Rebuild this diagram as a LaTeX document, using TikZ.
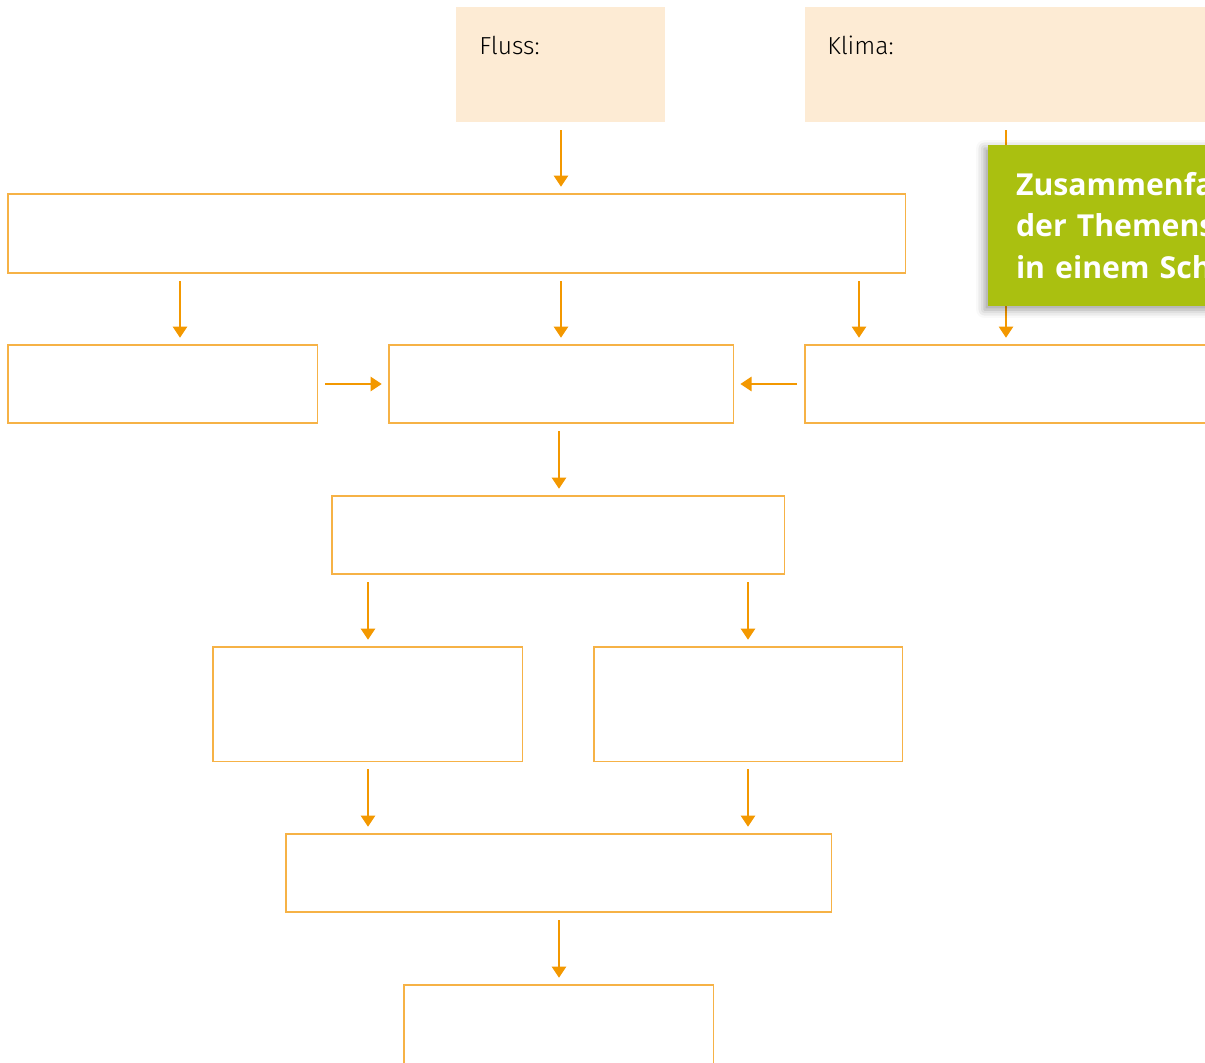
\documentclass[tikz,border=0pt]{standalone}
\usepackage{fontspec}
\setmainfont{Fira Sans}
\newfontfamily\lightfont{Fira Sans Light}
\newfontfamily\medfont{Open Sans}
\usetikzlibrary{arrows.meta,shadows.blur}
\definecolor{boxor}{RGB}{246,178,70}
\definecolor{arror}{RGB}{243,152,0}
\definecolor{beige}{RGB}{253,235,212}
\definecolor{lime}{RGB}{170,192,16}
\begin{document}
\begin{tikzpicture}[x=0.025cm,y=-0.025cm,
  bx/.style={draw=boxor,line width=0.75pt,anchor=north west,inner sep=0pt,outer sep=0pt},
  tb/.style={fill=beige,anchor=north west,inner sep=0pt,outer sep=0pt,minimum height=2.875cm},
  lbl/.style={anchor=base west,inner sep=0pt,font=\lightfont\fontsize{17.5}{20}\selectfont},
  arr/.style={draw=arror,line width=1.8pt,-{Triangle[width=10pt,length=8pt]},shorten <=0.2cm,shorten >=0.18cm},
  greenbox/.style={fill=lime,anchor=north west,inner xsep=0.7cm,inner ysep=0pt,outer sep=0pt,
    text=white,align=left,text width=6.4cm,font=\medfont\bfseries\fontsize{21.5}{29.5}\selectfont,
    blur shadow={shadow xshift=-2.5pt,shadow yshift=-2.5pt,shadow blur radius=6pt,shadow opacity=40}}]
\useasboundingbox (0,0) rectangle (1205,1063);
% top label boxes
\node[tb,minimum width=5.225cm] (fluss) at (456,7) {};
\node[lbl] (flusst) at (479,55) {Fluss:};
\node[tb,minimum width=10.5cm] (klima) at (805,7) {};
\node[lbl] (klimat) at (827,55) {Klima:};
% boxes
\node[bx,minimum width=22.425cm,minimum height=1.975cm] (b1) at (8,194) {};
\node[bx,minimum width=7.725cm,minimum height=1.95cm] (a) at (8,345) {};
\node[bx,minimum width=8.6cm,minimum height=1.95cm] (b) at (389,345) {};
\node[bx,minimum width=10.5cm,minimum height=1.95cm] (c) at (805,345) {};
\node[bx,minimum width=11.3cm,minimum height=1.95cm] (d) at (332,496) {};
\node[bx,minimum width=7.725cm,minimum height=2.85cm] (e) at (213,647) {};
\node[bx,minimum width=7.7cm,minimum height=2.85cm] (f) at (594,647) {};
\node[bx,minimum width=13.625cm,minimum height=1.95cm] (g) at (286,834) {};
\node[bx,minimum width=7.725cm,minimum height=2.5cm] (h) at (404,985) {};
% x positions
\coordinate (x180) at (180,0);
\coordinate (x561) at (561,0);
\coordinate (x859) at (859,0);
\coordinate (x1006) at (1006,0);
\coordinate (x368) at (368,0);
\coordinate (x748) at (748,0);
\coordinate (x559) at (559,0);
% arrows
\draw[arr] (fluss.south -| x561) -- (b1.north -| x561);
\draw[arr] (b1.south -| x180) -- (a.north -| x180);
\draw[arr] (b1.south -| x561) -- (b.north -| x561);
\draw[arr] (b1.south -| x859) -- (c.north -| x859);
\draw[arr] (klima.south -| x1006) -- (c.north -| x1006);
\draw[arr] (a.east) -- (b.west);
\draw[arr] (c.west) -- (b.east);
\draw[arr] (b.south -| x559) -- (d.north -| x559);
\draw[arr] (d.south -| x368) -- (e.north -| x368);
\draw[arr] (d.south -| x748) -- (f.north -| x748);
\draw[arr] (e.south -| x368) -- (g.north -| x368);
\draw[arr] (f.south -| x748) -- (g.north -| x748);
\draw[arr] (g.south -| x559) -- (h.north -| x559);
% green note
\node[greenbox,minimum height=4.025cm] (note) at (988,145) {Zusammenfa\\der Themens\\in einem Sch};
\end{tikzpicture}
\end{document}
